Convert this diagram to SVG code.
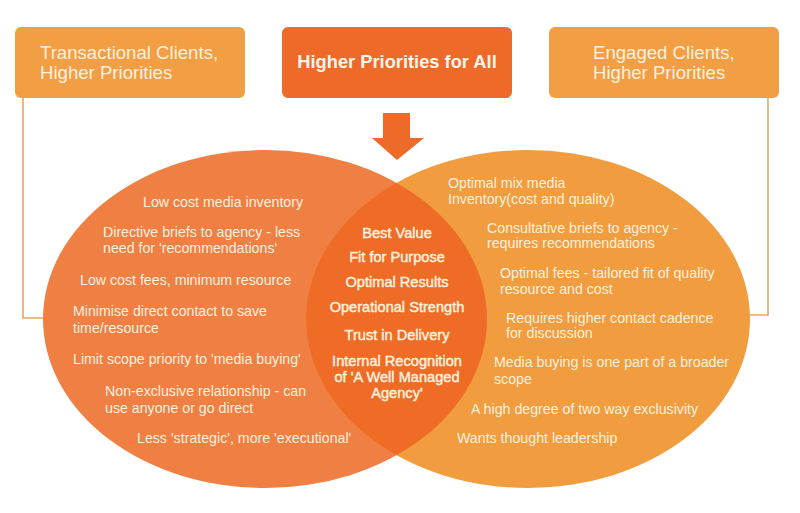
<svg xmlns="http://www.w3.org/2000/svg" width="800" height="513" viewBox="0 0 800 513">
<style>
.box-side{fill:#F29E45}
.box-main{fill:#EE6A29}
.t{font-family:"Liberation Sans",Arial,sans-serif;fill:#FEF1DF}
.hd{font-size:18.6px}
.hm{font-size:18.3px;font-weight:bold;fill:#FFF4EA}
.s{font-size:14.2px}
.c{font-size:14.6px;text-anchor:middle;stroke:#FEF1DF;stroke-width:0.45px}
.conn{fill:none;stroke:#E9A566;stroke-width:1.6}
</style>
<defs>
<clipPath id="clipL"><ellipse cx="265" cy="319" rx="222" ry="169"/></clipPath>
</defs>
<rect width="800" height="513" fill="#FFFFFF"/>
<g id="connectors">
<polyline class="conn" points="23,98 23,318 60,318"/>
<polyline class="conn" points="768,98 768,315 735,315"/>
<polygon fill="#EE6A28" points="383,113 410,113 410,138 424,138 397,160 372,138 383,138"/>
</g>
<g id="box-transactional">
<rect class="box-side" x="15" y="27" width="230" height="71" rx="6"/>
<text class="t hd" x="40" y="59">Transactional Clients,</text>
<text class="t hd" x="40" y="79">Higher Priorities</text>
</g>
<g id="box-all">
<rect class="box-main" x="282" y="27" width="230" height="71" rx="6"/>
<text class="t hm" x="397" y="68" text-anchor="middle">Higher Priorities for All</text>
</g>
<g id="box-engaged">
<rect class="box-side" x="549" y="27" width="230" height="71" rx="6"/>
<text class="t hd" x="593" y="59">Engaged Clients,</text>
<text class="t hd" x="593" y="79">Higher Priorities</text>
</g>
<g id="ellipse-left">
<ellipse cx="265" cy="319" rx="222" ry="169" fill="#F07F44"/>
</g>
<g id="ellipse-right">
<ellipse cx="528" cy="319" rx="222" ry="169" fill="#F29C40"/>
</g>
<g id="lens">
<ellipse cx="528" cy="319" rx="222" ry="169" fill="#EF6C27" clip-path="url(#clipL)"/>
</g>
<g id="left-items">
<text class="t s" x="143" y="207">Low cost media inventory</text>
<text class="t s" x="103" y="237">Directive briefs to agency - less</text>
<text class="t s" x="103" y="253">need for 'recommendations'</text>
<text class="t s" x="80" y="285">Low cost fees, minimum resource</text>
<text class="t s" x="73" y="316">Minimise direct contact to save</text>
<text class="t s" x="73" y="333">time/resource</text>
<text class="t s" x="73" y="364">Limit scope priority to 'media buying'</text>
<text class="t s" x="105" y="396">Non-exclusive relationship - can</text>
<text class="t s" x="105" y="413">use anyone or go direct</text>
<text class="t s" x="137" y="443">Less 'strategic', more 'executional'</text>
</g>
<g id="center-items">
<text class="t c" x="397" y="238">Best Value</text>
<text class="t c" x="397" y="262">Fit for Purpose</text>
<text class="t c" x="397" y="287">Optimal Results</text>
<text class="t c" x="397" y="312">Operational Strength</text>
<text class="t c" x="397" y="340">Trust in Delivery</text>
<text class="t c" x="397" y="366">Internal Recognition</text>
<text class="t c" x="397" y="382">of 'A Well Managed</text>
<text class="t c" x="397" y="398">Agency'</text>
</g>
<g id="right-items">
<text class="t s" x="448" y="188">Optimal mix media</text>
<text class="t s" x="448" y="204">Inventory(cost and quality)</text>
<text class="t s" x="487" y="233">Consultative briefs to agency -</text>
<text class="t s" x="487" y="248">requires recommendations</text>
<text class="t s" x="500" y="278">Optimal fees - tailored fit of quality</text>
<text class="t s" x="500" y="294">resource and cost</text>
<text class="t s" x="506" y="323">Requires higher contact cadence</text>
<text class="t s" x="506" y="338">for discussion</text>
<text class="t s" x="494" y="367">Media buying is one part of a broader</text>
<text class="t s" x="494" y="384">scope</text>
<text class="t s" x="471" y="414">A high degree of two way exclusivity</text>
<text class="t s" x="457" y="443">Wants thought leadership</text>
</g>
</svg>
